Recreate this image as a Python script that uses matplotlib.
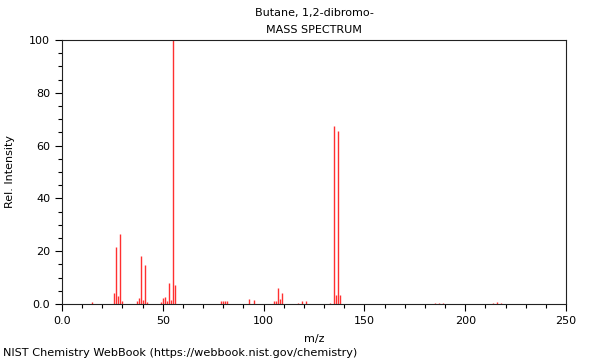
import matplotlib
matplotlib.use("Agg")
import matplotlib.pyplot as plt
from matplotlib.ticker import MultipleLocator, FuncFormatter

plt.rcParams['font.family'] = 'DejaVu Sans'
plt.rcParams['font.size'] = 8

# peaks
mz = [15, 26, 27, 28, 29, 30, 37, 38, 39, 40, 41, 42,
      49, 50, 51, 52, 53, 54, 55, 56,
      79, 80, 81, 82, 93, 95,
      105, 106, 107, 108, 109, 117, 119, 121,
      133, 135, 136, 137, 138, 185, 187, 189, 214, 216, 218]
intensity = [0.8, 4.2, 21.5, 3.0, 26.4, 1.0, 1.3, 2.4, 18.3, 1.6, 14.6, 0.8,
             0.8, 2.4, 2.8, 1.0, 8.0, 1.5, 100.0, 7.2,
             1.3, 1.2, 1.3, 1.2, 1.8, 1.6,
             1.3, 1.3, 6.0, 1.8, 4.3, 0.4, 1.3, 1.2,
             0.5, 67.5, 3.5, 65.5, 3.5, 0.2, 0.5, 0.2, 0.3, 0.6, 0.3]

fig = plt.figure(figsize=(6, 3.6), dpi=100)
ax = fig.add_axes([62/600, 56/360, 504/600, 264/360])

ax.vlines(mz, 0, intensity, color='#ff3030', lw=1)

ax.set_xlim(0, 250)
ax.set_ylim(0, 100)
ax.xaxis.set_major_locator(MultipleLocator(50))
ax.xaxis.set_minor_locator(MultipleLocator(10))
ax.yaxis.set_major_locator(MultipleLocator(20))
ax.yaxis.set_minor_locator(MultipleLocator(5))
fmt = FuncFormatter(lambda v, p: "0.0" if v == 0 else f"{v:g}")
ax.xaxis.set_major_formatter(fmt)
ax.yaxis.set_major_formatter(fmt)
ax.tick_params(which='major', direction='out', length=5, width=0.8)
ax.tick_params(which='minor', direction='out', length=3, width=0.8)
for s in ax.spines.values():
    s.set_linewidth(0.8)
    s.set_color('#222222')

ax.set_xlabel('m/z', labelpad=6)
ax.set_ylabel('Rel. Intensity', labelpad=10)

fig.text(314/600, 1 - 13/360, 'Butane, 1,2-dibromo-', ha='center', va='center')
fig.text(314/600, 1 - 30/360, 'MASS SPECTRUM', ha='center', va='center')
fig.text(3/600, 1 - 353/360, 'NIST Chemistry WebBook (https://webbook.nist.gov/chemistry)',
         ha='left', va='center', fontsize=8.15)

fig.savefig('out.png', dpi=100)
